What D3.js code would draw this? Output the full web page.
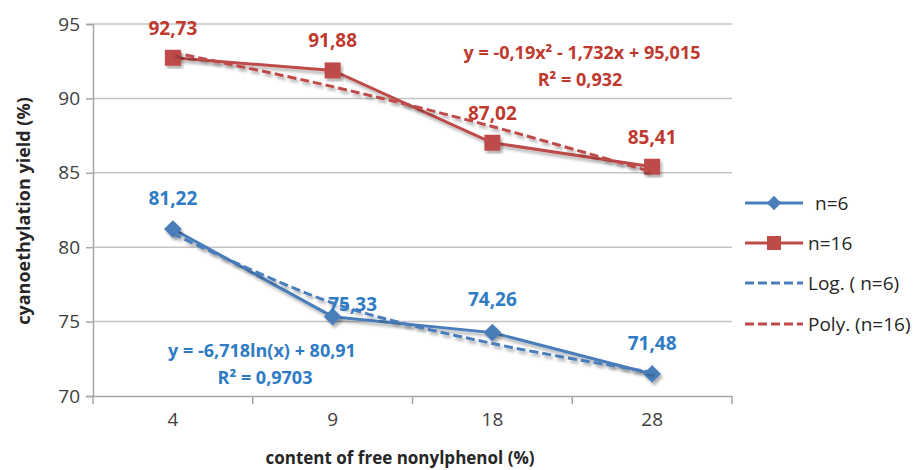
<!DOCTYPE html>
<html><head><meta charset="utf-8">
<script src="https://cdn.jsdelivr.net/npm/d3@7/dist/d3.min.js"></script>
<style>
body{margin:0;background:#fff;}
svg{display:block;font-family:"Open Sans",sans-serif;}
</style></head>
<body><svg id="c" width="921" height="470"></svg>
<script>
const categories = ["4", "9", "18", "28"];
const n6 = [81.22, 75.33, 74.26, 71.48];
const n16 = [92.73, 91.88, 87.02, 85.41];
const logTrend = [80.91, 76.25, 73.53, 71.60];
const polyTrend = [93.09, 90.79, 88.11, 85.05];
const yTicks = [70, 75, 80, 85, 90, 95];
const labels6 = ["81,22", "75,33", "74,26", "71,48"];
const labels16 = ["92,73", "91,88", "87,02", "85,41"];
const legendNames = ["n=6", "n=16", "Log. ( n=6)", "Poly. (n=16)"];

const blue = "#4a7ebb", red = "#be4b48";
const blueText = "#2f7bc4", redText = "#c0392f";

const svg = d3.select("#c");
const defs = svg.append("defs");
const f = defs.append("filter").attr("id","sh").attr("x","-20%").attr("y","-20%").attr("width","140%").attr("height","140%");
f.append("feDropShadow").attr("dx",2).attr("dy",3).attr("stdDeviation",1.5).attr("flood-color","#000").attr("flood-opacity",0.3);

const x = d3.scaleBand().domain(categories).range([93, 732]).padding(0);
const y = d3.scaleLinear().domain([70, 95]).range([396, 24]);
const cx = c => x(c) + x.bandwidth()/2;

// gridlines
svg.append("g").selectAll("line").data(yTicks.filter(t=>t>70)).join("line")
  .attr("x1", 93).attr("x2", 732).attr("y1", d=>y(d)).attr("y2", d=>y(d))
  .attr("stroke", "#c4c4c4").attr("stroke-width", 1.5);

// y axis
const ya = svg.append("g").attr("transform","translate(93,0)")
  .call(d3.axisLeft(y).tickValues(yTicks).tickSize(7).tickPadding(6).tickFormat(d3.format("d")));
ya.select(".domain").attr("stroke","#a6a6a6").attr("stroke-width",1.5);
ya.selectAll(".tick line").attr("stroke","#a6a6a6").attr("stroke-width",1.5);
ya.selectAll("text").attr("font-size",19).attr("fill","#404040").attr("font-family","Open Sans");

// x axis
const xa = svg.append("g").attr("transform","translate(0,396)")
  .call(d3.axisBottom(x).tickSize(0).tickPadding(17));
xa.select(".domain").attr("stroke","#a6a6a6").attr("stroke-width",1.5);
xa.selectAll("text").attr("font-size",19).attr("fill","#404040").attr("font-family","Open Sans");
svg.append("g").selectAll("line").data(d3.range(categories.length+1)).join("line")
  .attr("x1", i=>93 + i*x.bandwidth()).attr("x2", i=>93 + i*x.bandwidth())
  .attr("y1",396).attr("y2",404).attr("stroke","#a6a6a6").attr("stroke-width",1.5);

// axis titles
svg.append("text").attr("transform","translate(23,211) rotate(-90)").attr("text-anchor","middle")
  .attr("dominant-baseline","central").attr("font-weight","bold").attr("font-size",18).attr("fill","#262626")
  .text("cyanoethylation yield (%)");
svg.append("text").attr("x",400).attr("y",457).attr("text-anchor","middle")
  .attr("dominant-baseline","central").attr("font-weight","bold").attr("font-size",17).attr("fill","#262626")
  .text("content of free nonylphenol (%)");

const line = d3.line().x((d,i)=>cx(categories[i])).y(d=>y(d));
const curve = d3.line().x((d,i)=>cx(categories[i])).y(d=>y(d)).curve(d3.curveCatmullRom);

// series lines
svg.append("path").datum(n6).attr("d",line).attr("fill","none").attr("stroke",blue).attr("stroke-width",3).attr("filter","url(#sh)");
svg.append("path").datum(n16).attr("d",line).attr("fill","none").attr("stroke",red).attr("stroke-width",3).attr("filter","url(#sh)");

// markers
const sym6 = d3.symbol().type(d3.symbolDiamond2).size(200);
svg.append("g").selectAll("path").data(n6).join("path")
  .attr("d", sym6).attr("transform",(d,i)=>`translate(${cx(categories[i])},${y(d)})`)
  .attr("fill",blue).attr("filter","url(#sh)");
svg.append("g").selectAll("rect").data(n16).join("rect")
  .attr("x",(d,i)=>cx(categories[i])-8).attr("y",d=>y(d)-8).attr("width",16).attr("height",16)
  .attr("fill",red).attr("filter","url(#sh)");

// trendlines
svg.append("path").datum(logTrend).attr("d",curve).attr("fill","none").attr("stroke",blue).attr("stroke-width",3).attr("stroke-dasharray","9,4").attr("filter","url(#sh)");
svg.append("path").datum(polyTrend).attr("d",curve).attr("fill","none").attr("stroke",red).attr("stroke-width",3).attr("stroke-dasharray","9,4").attr("filter","url(#sh)");

// data labels
const off6 = [[0,-31],[20,-13],[0,-34],[0,-31]];
svg.append("g").selectAll("text").data(n6).join("text")
  .attr("x",(d,i)=>cx(categories[i])+off6[i][0]).attr("y",(d,i)=>y(d)+off6[i][1])
  .attr("text-anchor","middle").attr("dominant-baseline","central")
  .attr("font-weight","bold").attr("font-size",19).attr("fill",blueText)
  .text((d,i)=>labels6[i]);
svg.append("g").selectAll("text").data(n16).join("text")
  .attr("x",(d,i)=>cx(categories[i])).attr("y",d=>y(d)-30)
  .attr("text-anchor","middle").attr("dominant-baseline","central")
  .attr("font-weight","bold").attr("font-size",19).attr("fill",redText)
  .text((d,i)=>labels16[i]);

// equations
const eqR = svg.append("g").attr("font-weight","bold").attr("font-size",18).attr("fill",redText).attr("text-anchor","middle");
eqR.append("text").attr("x",582).attr("y",52).attr("dominant-baseline","central").text("y = -0,19x² - 1,732x + 95,015");
eqR.append("text").attr("x",580).attr("y",79).attr("dominant-baseline","central").text("R² = 0,932");

const eqB = svg.append("g").attr("font-weight","bold").attr("font-size",18).attr("fill",blueText).attr("text-anchor","middle");
eqB.append("text").attr("x",262).attr("y",350).attr("dominant-baseline","central").text("y = -6,718ln(x) + 80,91");
eqB.append("text").attr("x",265).attr("y",377).attr("dominant-baseline","central").text("R² = 0,9703");

// legend
const lg = svg.append("g");
const ly = [203, 243, 283, 324];
const lcol = [blue, red, blue, red];
legendNames.forEach((nm,i)=>{
  const g = lg.append("g").attr("transform",`translate(0,${ly[i]})`);
  g.append("line").attr("x1",745).attr("x2",803).attr("y1",0).attr("y2",0)
    .attr("stroke",lcol[i]).attr("stroke-width",3).attr("stroke-dasharray", i>=2 ? "9,4" : null);
  if(i===0) g.append("path").attr("d",d3.symbol().type(d3.symbolDiamond2).size(130)).attr("transform","translate(774,0)").attr("fill",blue);
  if(i===1) g.append("rect").attr("x",767).attr("y",-7).attr("width",14).attr("height",14).attr("fill",red);
  g.append("text").attr("x", i===0 ? 815 : 808).attr("y",0).attr("dominant-baseline","central")
    .attr("font-size",19).attr("fill","#262626").text(nm);
});
</script></body></html>
